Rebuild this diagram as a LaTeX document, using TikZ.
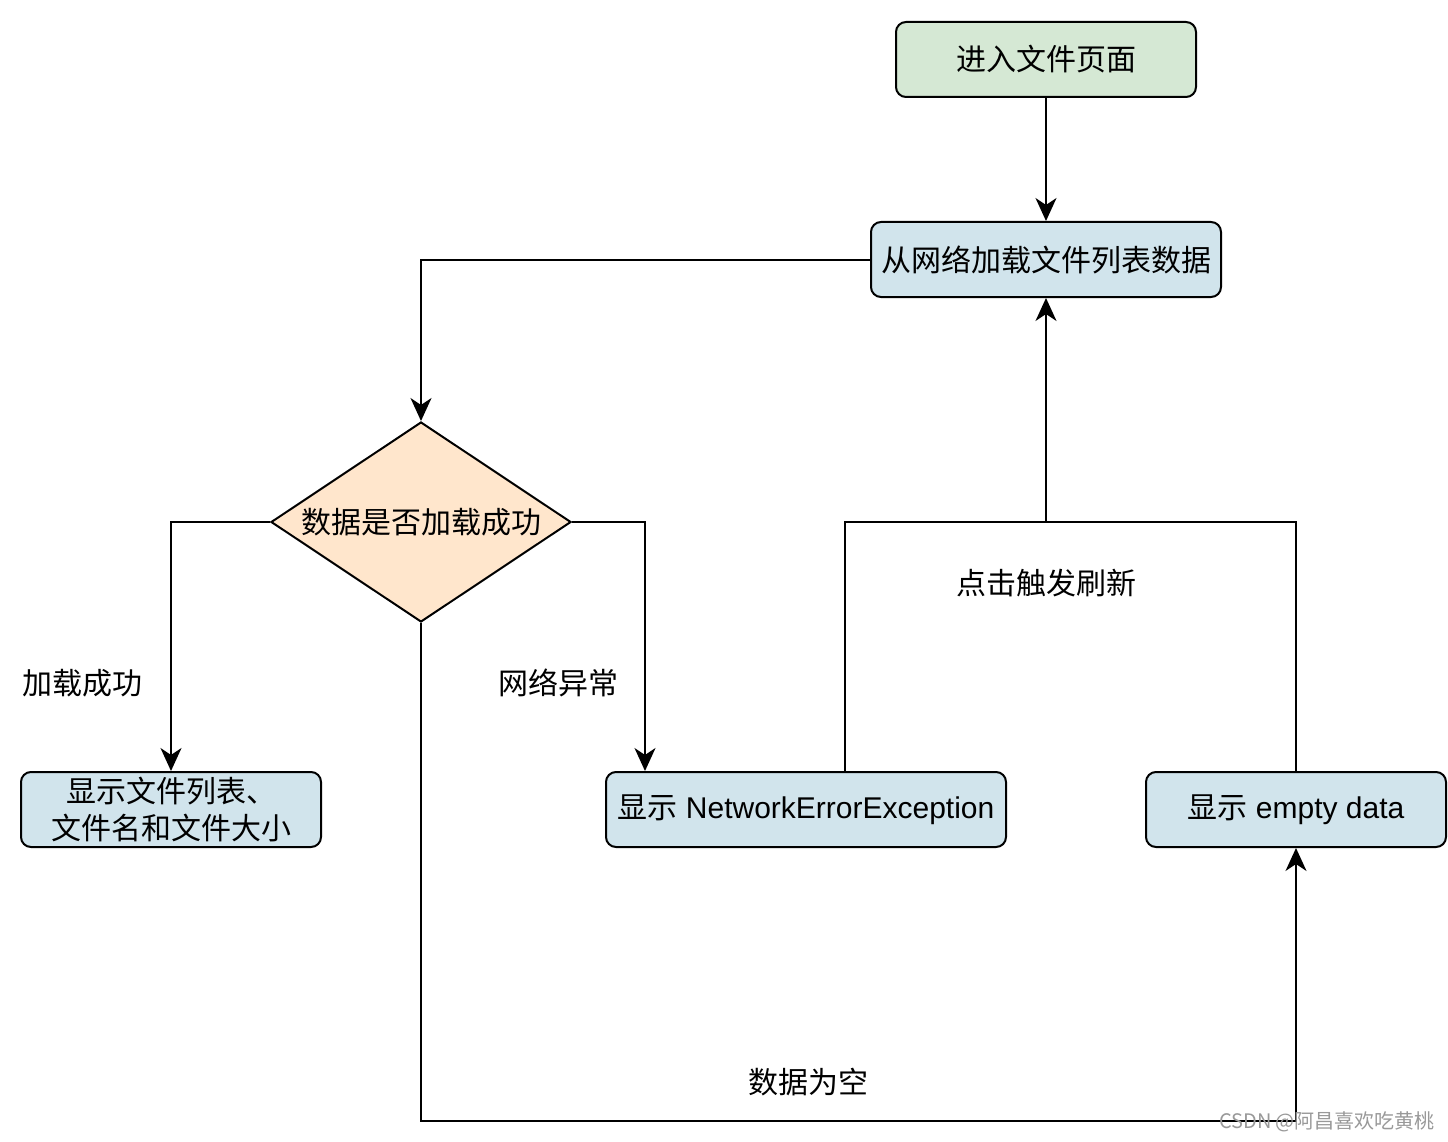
\documentclass[tikz,border=0pt]{standalone}
\usepackage{fontspec}
\setmainfont{Liberation Sans}
\newfontfamily\cjk{Noto Sans CJK SC}
\usetikzlibrary{shapes.geometric,arrows.meta,calc}
\definecolor{boxgreen}{HTML}{D5E8D4}
\definecolor{boxblue}{HTML}{D1E4EC}
\definecolor{boxorange}{HTML}{FFE6CC}
\tikzset{
  box/.style={draw=black, line width=2pt, rounded corners=10pt, minimum width=300pt, minimum height=75pt, inner sep=0pt, fill=boxblue, font=\fontsize{30}{37}\selectfont, align=center},
  decision/.style={draw=black, line width=2pt, diamond, minimum width=300pt, minimum height=200pt, inner sep=0pt, fill=boxorange},
  lbl/.style={inner sep=0pt, font=\fontsize{30}{37}\selectfont\cjk},
  conn/.style={line width=2pt, draw=black},
  arr/.style={conn, -{Stealth[length=23pt,width=21pt,inset=7pt]}},
}
\begin{document}
\begin{tikzpicture}[x=1pt,y=-1pt]
\useasboundingbox (0,0) rectangle (1448,1142);
% nodes
\node[box, fill=boxgreen] (A) at (1046,59.5) {\cjk 进入文件页面};
\node[box, minimum width=350pt] (B) at (1046,259.5) {\cjk 从网络加载文件列表数据};
\node[decision] (dec) at (421,522) {};
\node[lbl] (dectext) at (421,522) {数据是否加载成功};
\node[box] (C) at (171,809.5) {\cjk 显示文件列表、\\\cjk 文件名和文件大小};
\node[box, minimum width=400pt] (D) at (806,809.5) {{\cjk 显示} NetworkErrorException};
\node[box] (E) at (1296,809.5) {{\cjk 显示} empty data};
% labels
\node[lbl] (l1) at (83,683) {加载成功};
\node[lbl] (l2) at (558,683) {网络异常};
\node[lbl] (l3) at (1046,583) {点击触发刷新};
\node[lbl] (l4) at (808,1082) {数据为空};
% helper coordinates
\coordinate (j) at (1046,522);
\coordinate (bot) at (421,1121);
% connectors
\draw[arr] (A) -- (B);
\draw[arr] (B.west) -| (dec.north);
\draw[arr] (dec.west) -| (C.north);
\draw[arr] (dec.east) -| ($(D.north west)+(40,0)$);
\draw[arr] (dec.south) -- (bot) -| (E.south);
\draw[conn] (E.north) |- (j);
\draw[arr] ($(D.north west)+(240,0)$) |- (j) -- (B.south);
% watermark
\node[inner sep=0pt, text=black!40, font=\fontsize{20}{24}\selectfont\cjk] (wm) at (1327,1122) {CSDN @阿昌喜欢吃黄桃};
\end{tikzpicture}
\end{document}
